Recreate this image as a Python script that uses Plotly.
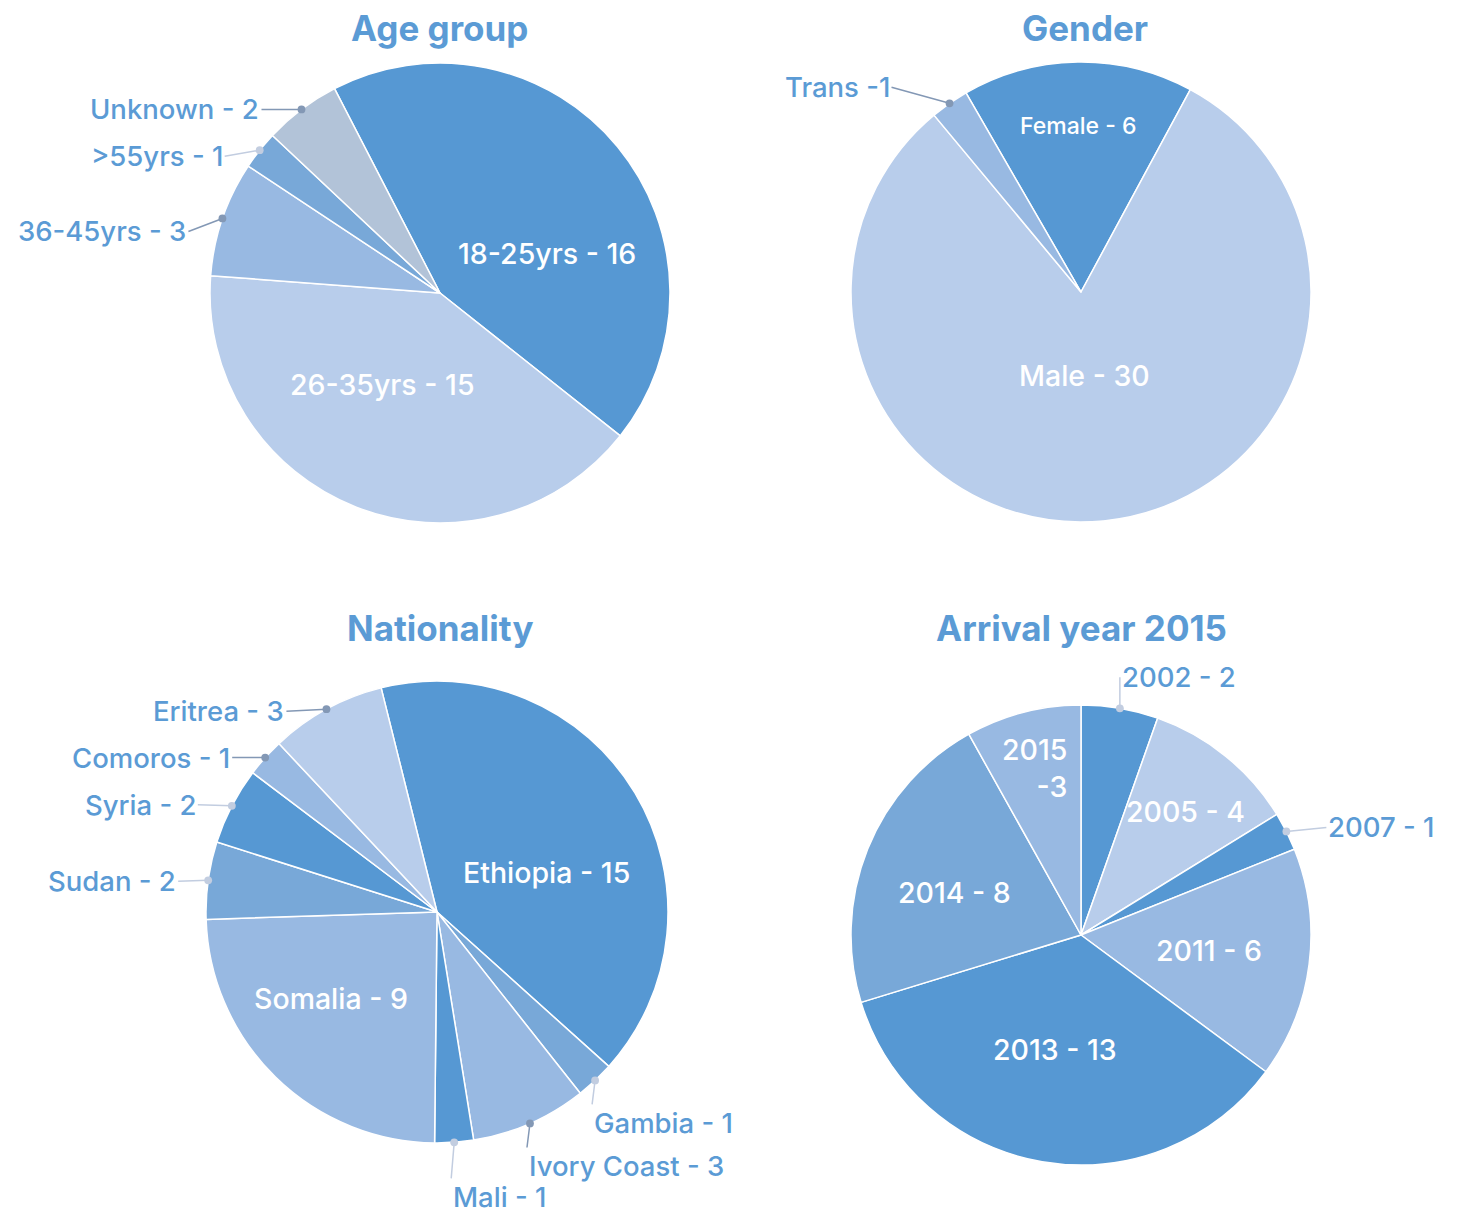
import math
import plotly.graph_objects as go

W, H = 1465, 1216
PAGE = 8  # the page body margin shifts the figure by this many pixels

# --- data ---------------------------------------------------------------
age_labels = ["18-25yrs", "26-35yrs", "36-45yrs", ">55yrs", "Unknown"]
age_values = [16, 15, 3, 1, 2]

gender_labels = ["Female", "Male", "Trans"]
gender_values = [6, 30, 1]

nat_labels = ["Ethiopia", "Gambia", "Ivory Coast", "Mali", "Somalia",
              "Sudan", "Syria", "Comoros", "Eritrea"]
nat_values = [15, 1, 3, 1, 9, 2, 2, 1, 3]

year_labels = ["2002", "2005", "2007", "2011", "2013", "2014", "2015"]
year_values = [2, 4, 1, 6, 13, 8, 3]

# label text overrides (as written in the original)
TEXT_OVERRIDES = {"Trans": "Trans -1", "2015": "2015<br>-3"}

# --- style ----------------------------------------------------------------
DARK, MID, LIGHT, PALE, GREY = "#5698d3", "#78a8d8", "#98b9e2", "#b8cdeb", "#b2c3d8"
TEXT_BLUE = "#5b9bd5"
DOT_DARK, DOT_LIGHT = "#8398b5", "#c2cde0"
FONT = "Inter"
LABEL_SIZE = 27.5

age_colors = [DARK, PALE, LIGHT, MID, GREY]
gender_colors = [DARK, PALE, LIGHT]
nat_colors = [DARK, MID, LIGHT, DARK, LIGHT, MID, DARK, LIGHT, PALE]
year_colors = [DARK, PALE, DARK, LIGHT, DARK, MID, LIGHT]

# pie placement in page pixels: centre, radius, start rotation, title position
PIES = {
    "Age group": dict(cx=440, cy=293, r=230, rot=-27.3, tx=439, ty=28),
    "Gender": dict(cx=1081, cy=292, r=230, rot=-30, tx=1085, ty=28),
    "Nationality": dict(cx=437, cy=912, r=231, rot=-14, tx=440, ty=628),
    "Arrival year 2015": dict(cx=1081, cy=935, r=230, rot=0, tx=1081, ty=628),
}

# outside labels: slice -> (ax, ay, xanchor, yanchor, connector colour)
OUTSIDE = {
    "Age group": {
        "Unknown": (-40, 0, "right", "middle", DOT_DARK),
        ">55yrs": (-35, 6, "right", "middle", DOT_LIGHT),
        "36-45yrs": (-34, 13, "right", "middle", DOT_DARK),
    },
    "Gender": {
        "Trans": (-58, -16, "right", "middle", DOT_DARK),
    },
    "Nationality": {
        "Eritrea": (-40, 2, "right", "middle", DOT_DARK),
        "Comoros": (-33, 0, "right", "middle", DOT_DARK),
        "Syria": (-34, -1, "right", "middle", DOT_LIGHT),
        "Sudan": (-30, 1, "right", "middle", DOT_LIGHT),
        "Gambia": (-3, 24, "left", "top", DOT_LIGHT),
        "Ivory Coast": (-3, 24, "left", "top", DOT_DARK),
        "Mali": (-3, 36, "left", "top", DOT_LIGHT),
    },
    "Arrival year 2015": {
        "2002": (0, -31, "left", "middle", DOT_LIGHT),
        "2007": (40, -4, "left", "middle", DOT_LIGHT),
    },
}

# inside labels sit at 0.55 r on the slice mid-angle, nudged by (dx, dy) px
INSIDE_NUDGE = {
    "18-25yrs": (9, 41), "26-35yrs": (-11, -26),
    "Female": (-1, -40), "Male": (-9, -42),
    "Ethiopia": (1, 26), "Somalia": (-17, -4),
    "2005": (25, -25), "2011": (3, -1), "2013": (-5, -10),
    "2014": (-9, 5), "2015": (-15, -45),
}
INSIDE_SIZE = {"Female": 23}

SERIES = {
    "Age group": (age_labels, age_values, age_colors),
    "Gender": (gender_labels, gender_values, gender_colors),
    "Nationality": (nat_labels, nat_values, nat_colors),
    "Arrival year 2015": (year_labels, year_values, year_colors),
}


def label_text(name, value):
    return TEXT_OVERRIDES.get(name, f"{name} - {value}")


def to_paper(x, y):
    return (x - PAGE) / W, 1 - (y - PAGE) / H


fig = go.Figure()
annotations = []

for title, (labels, values, colors) in SERIES.items():
    p = PIES[title]
    outside = OUTSIDE[title]
    x0, y1 = to_paper(p["cx"] - p["r"], p["cy"] - p["r"])
    x1, y0 = to_paper(p["cx"] + p["r"], p["cy"] + p["r"])

    fig.add_trace(go.Pie(
        labels=labels, values=values, textinfo="none",
        marker=dict(colors=colors, line=dict(color="white", width=1.5)),
        sort=False, direction="clockwise", rotation=p["rot"],
        domain=dict(x=[x0, x1], y=[y0, y1]),
        hoverinfo="skip", showlegend=False,
    ))

    total = sum(values)
    start = p["rot"]
    for name, value in zip(labels, values):
        span = 360 * value / total
        mid = math.radians(start + span / 2)
        start += span
        txt = label_text(name, value)
        if name in outside:
            # dot on the rim at the slice's mid-angle, text pulled outwards
            ax, ay, xa, ya, col = outside[name]
            hx, hy = to_paper(p["cx"] + p["r"] * math.sin(mid),
                              p["cy"] - p["r"] * math.cos(mid))
            annotations.append(dict(
                x=hx, y=hy, xref="paper", yref="paper",
                text=txt, showarrow=True, ax=ax, ay=ay,
                xanchor=xa, yanchor=ya,
                arrowhead=6, arrowsize=1.3, arrowwidth=1.5, arrowcolor=col,
                font=dict(family=FONT, size=LABEL_SIZE, color=TEXT_BLUE,
                          weight=500),
            ))
        else:
            dx, dy = INSIDE_NUDGE.get(name, (0, 0))
            ix, iy = to_paper(p["cx"] + 0.55 * p["r"] * math.sin(mid),
                              p["cy"] - 0.55 * p["r"] * math.cos(mid))
            annotations.append(dict(
                x=ix, y=iy, xref="paper", yref="paper",
                text=txt, showarrow=False, align="right",
                xshift=dx, yshift=-dy,
                xanchor="center", yanchor="middle",
                font=dict(family=FONT, size=INSIDE_SIZE.get(name, 28.5),
                          color="white", weight=500),
            ))

    tx, ty = to_paper(p["tx"], p["ty"])
    annotations.append(dict(
        x=tx, y=ty, xref="paper", yref="paper",
        text=title, showarrow=False, xanchor="center", yanchor="middle",
        font=dict(family=FONT, size=35, color=TEXT_BLUE, weight=700),
    ))

fig.update_layout(
    width=W, height=H,
    margin=dict(l=0, r=0, t=0, b=0),
    paper_bgcolor="white",
    annotations=annotations,
)

fig.write_html("out.html")
